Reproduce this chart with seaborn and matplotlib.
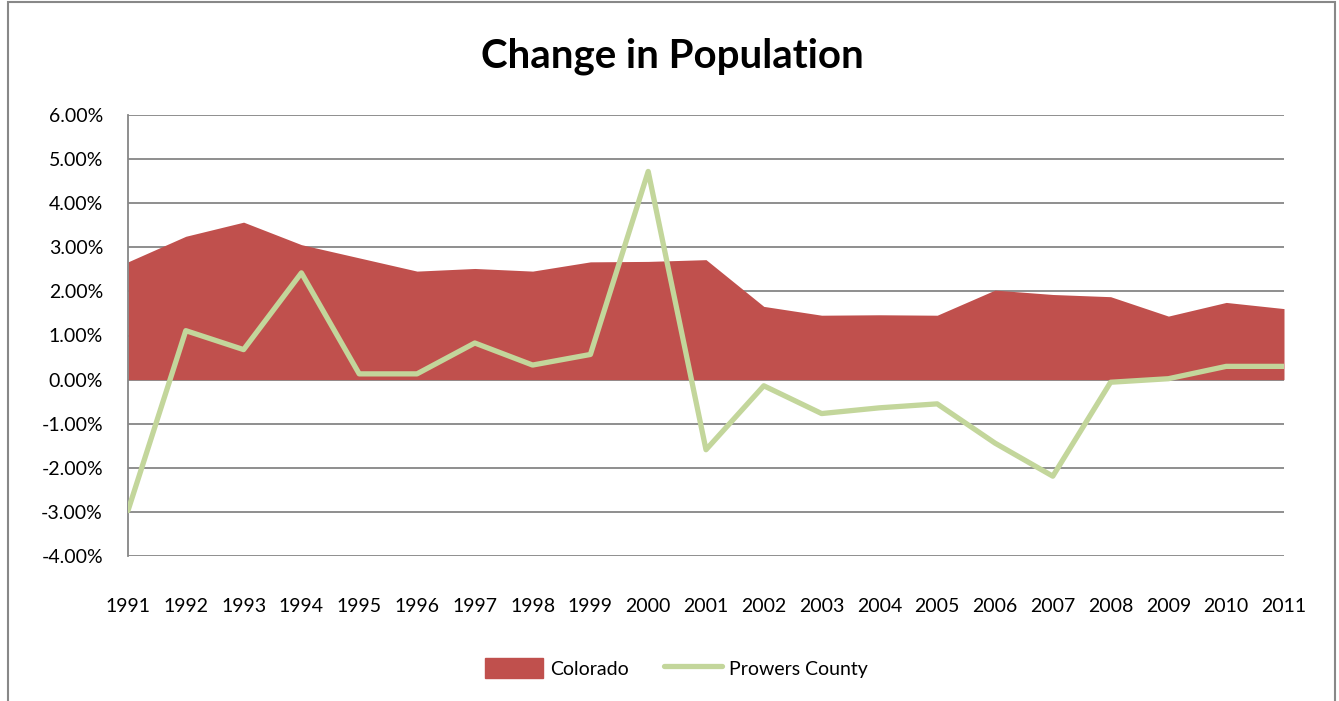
import numpy as np
import pandas as pd
import matplotlib
matplotlib.use("Agg")
import matplotlib.pyplot as plt
import seaborn as sns
from matplotlib.patches import Rectangle, Patch
from matplotlib.lines import Line2D
from matplotlib.ticker import FuncFormatter

years = list(range(1991, 2012))
colorado = [2.67, 3.25, 3.57, 3.06, 2.76, 2.46, 2.52, 2.46, 2.67, 2.68, 2.72,
            1.66, 1.46, 1.47, 1.46, 2.03, 1.93, 1.88, 1.44, 1.75, 1.61]
prowers = [-2.97, 1.11, 0.68, 2.42, 0.13, 0.13, 0.83, 0.33, 0.57, 4.72, -1.59,
           -0.14, -0.77, -0.64, -0.55, -1.44, -2.19, -0.06, 0.02, 0.30, 0.30]

df = pd.DataFrame({'year': years, 'Colorado': colorado, 'Prowers County': prowers})

sns.set_style("white")
plt.rcParams['font.family'] = ['Lato', 'DejaVu Sans']
plt.rcParams['text.color'] = 'black'
plt.rcParams['xtick.color'] = 'black'
plt.rcParams['ytick.color'] = 'black'

red = '#C0504D'
green = '#C3D69B'
grid = '#868686'

fig = plt.figure(figsize=(13.39, 7.01), dpi=100)
ax = fig.add_axes([128/1339, 145/701, 1156/1339, 441/701])

# Colorado as filled area, Prowers as a line
ax.fill_between(df['year'], 0, df['Colorado'], color=red, lw=0, zorder=2)
sns.lineplot(data=df, x='year', y='Prowers County', color=green, lw=3.8, ax=ax, zorder=3)

ax.set_xlim(1991, 2011)
ax.set_ylim(-4, 6)
ax.set_yticks(np.arange(-4, 7, 1))
ax.yaxis.set_major_formatter(FuncFormatter(lambda v, p: f'{v:.2f}%'))
ax.set_xticks(years)
ax.set_xticklabels([str(y) for y in years])
ax.grid(axis='y', color=grid, lw=1.3, zorder=1)
ax.set_axisbelow(True)
for s in ['top', 'right', 'bottom']:
    ax.spines[s].set_visible(False)
ax.spines['left'].set_color(grid)
ax.spines['left'].set_linewidth(1.3)
ax.tick_params(axis='y', labelsize=14, pad=18, length=0)
ax.tick_params(axis='x', labelsize=14, pad=30, length=0)
ax.set_xlabel('')
ax.set_ylabel('')

fig.text(0.502, 0.92, 'Change in Population', ha='center', va='center',
         fontsize=29, fontweight='bold', color='black')

handles = [Patch(color=red, label='Colorado'),
           Line2D([0], [0], color=green, lw=3.8, label='Prowers County')]
fig.legend(handles=handles, loc='center', bbox_to_anchor=(0.505, 0.047), ncol=2,
           frameon=False, fontsize=14, handlelength=3.0, handleheight=1.2,
           columnspacing=1.8, handletextpad=0.35)

fig.patches.append(Rectangle((8/1339, -0.01), 1327/1339, 1.007, transform=fig.transFigure,
                             fill=False, edgecolor='#888888', lw=1.5))

fig.savefig('out.png', dpi=100)
